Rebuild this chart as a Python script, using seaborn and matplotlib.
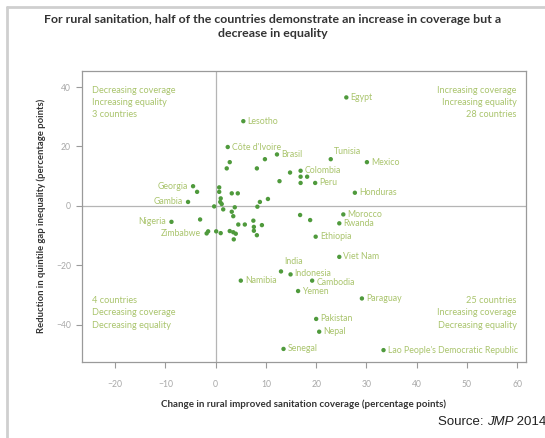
import matplotlib
matplotlib.use("Agg")
import matplotlib.pyplot as plt
import seaborn as sns
import pandas as pd
from matplotlib.lines import Line2D

# ---------------- data ----------------
labeled_countries = [
    "Egypt", "Lesotho", "Côte d'Ivoire", "Brasil", "Tunisia", "Mexico", "Colombia",
    "Peru", "Honduras", "Morocco", "Rwanda", "Ethiopia", "Viet Nam", "India",
    "Indonesia", "Cambodia", "Yemen", "Namibia", "Paraguay", "Pakistan", "Nepal",
    "Senegal", "Lao People's Democratic Republic", "Georgia", "Gambia", "Nigeria",
    "Zimbabwe",
]
labeled_x = [
    26.0, 5.5, 2.4, 12.2, 22.9, 30.1, 16.9,
    19.8, 27.7, 25.4, 24.6, 19.9, 24.6, 13.0,
    14.9, 19.2, 16.4, 5.0, 29.1, 20.0, 20.6,
    13.5, 33.4, -4.5, -5.5, -8.8,
    -1.8,
]
labeled_y = [
    36.5, 28.5, 19.8, 17.3, 15.7, 14.7, 11.8,
    7.7, 4.4, -2.9, -5.9, -10.4, -17.2, -22.1,
    -23.1, -25.2, -28.7, -25.2, -31.2, -38.1, -42.4,
    -48.2, -48.6, 6.6, 1.3, -5.4,
    -9.3,
]
unlabeled_x = [
    2.8, 2.2, 8.2, 9.8, 12.7, 14.8, 16.9, 18.2, 16.9, 0.7, 0.7, 3.2, 4.4, 1.0, 0.9,
    1.2, 8.8, 10.4, -3.7, -3.1, -1.5, 16.8, 18.8, 1.5, 3.8, 3.2, 3.5, 8.3, 4.5, 5.8,
    7.5, 7.6, 9.2, 7.6, 8.2, 0.1, 1.0, 2.8, 3.5, 4.0, 3.6, -0.3,
]
unlabeled_y = [
    14.7, 12.6, 12.6, 15.7, 8.3, 11.2, 9.8, 9.8, 7.7, 6.2, 4.7, 4.2, 4.2, 2.5, 1.3,
    0.6, 1.3, 2.3, 4.7, -4.6, -8.6, -3.1, -4.8, -1.2, -0.5, -2.0, -3.5, -0.3, -6.3, -6.3,
    -5.0, -7.1, -6.5, -8.4, -9.9, -8.6, -9.2, -8.5, -8.9, -9.4, -11.3, -0.2,
]
x_ticks = [-20, -10, 0, 10, 20, 30, 40, 50, 60]
y_ticks = [-40, -20, 0, 20, 40]
quadrant_notes = {
    "tl": "Decreasing coverage\nIncreasing equality\n3 countries",
    "tr": "Increasing coverage\nIncreasing equality\n28 countries",
    "bl": "4 countries\nDecreasing coverage\nDecreasing equality",
    "br": "25 countries\nIncreasing coverage\nDecreasing equality",
}
title = ("For rural sanitation, half of the countries demonstrate an increase in coverage but a\n"
         "decrease in equality")
x_label = "Change in rural improved sanitation coverage (percentage points)"
y_label = "Reduction in quintile gap inequality (percentage points)"
left_labels = {"Georgia", "Gambia", "Nigeria", "Zimbabwe"}
raised_labels = {"India": 4.2, "Tunisia": 2}
label_nudge = {"Indonesia": 1.0, "Cambodia": -1.5}

df = pd.DataFrame({
    "country": labeled_countries + [""] * len(unlabeled_x),
    "x": labeled_x + unlabeled_x,
    "y": labeled_y + unlabeled_y,
})

# ---------------- style ----------------
sns.set_theme(style="white")
plt.rcParams["font.family"] = ["Lato", "DejaVu Sans"]

DOT = "#4f9a3c"
LAB = "#a9c46c"
GRID = "#9a9a9a"
LFS = 6.3

fig = plt.figure(figsize=(5.45, 4.38), dpi=100)
ax = fig.add_axes([0.1505, 0.1742, 0.8141, 0.6637])

ax.axvline(0, color="#b5b5b5", lw=0.9, zorder=1)
ax.axhline(0, color="#b5b5b5", lw=0.9, zorder=1)

sns.scatterplot(data=df, x="x", y="y", ax=ax, color=DOT, s=10, edgecolor="none",
                zorder=3, legend=False)

for _, r in df.iterrows():
    name = r["country"]
    if not name:
        continue
    if name in left_labels:
        ax.annotate(name, (r["x"], r["y"]), xytext=(-4, 0), textcoords="offset points",
                    ha="right", va="center", fontsize=LFS, color=LAB)
    elif name in raised_labels:
        ax.annotate(name, (r["x"], r["y"]), xytext=(2, raised_labels[name]),
                    textcoords="offset points", ha="left", va="bottom",
                    fontsize=LFS, color=LAB)
    else:
        ax.annotate(name, (r["x"], r["y"]), xytext=(3, label_nudge.get(name, 0)),
                    textcoords="offset points", ha="left", va="center",
                    fontsize=LFS, color=LAB)

ax.set_xlim(-26.6, 61.7)
ax.set_ylim(-52.5, 45.4)
ax.set_xticks(x_ticks)
ax.set_yticks(y_ticks)
ax.tick_params(axis="both", which="both", length=4, width=0.8, color=GRID,
               labelsize=6.2, labelcolor="#a8a8a8", direction="out")
ax.tick_params(axis="x", pad=9)
ax.tick_params(axis="y", pad=4)
ax.xaxis.set_ticks_position("bottom")
ax.yaxis.set_ticks_position("left")
for s in ax.spines.values():
    s.set_color(GRID)
    s.set_linewidth(0.9)
    s.set_visible(True)

ax.set_xlabel(x_label, fontsize=7, fontweight="bold", color="#333333", labelpad=8)
ax.set_ylabel(y_label, fontsize=6.8, fontweight="bold", color="#333333", labelpad=7)

kw = dict(fontsize=6.6, color=LAB, linespacing=1.45, transform=ax.transAxes)
ax.text(0.023, 0.95, quadrant_notes["tl"], ha="left", va="top", **kw)
ax.text(0.98, 0.95, quadrant_notes["tr"], ha="right", va="top", **kw)
ax.text(0.023, 0.225, quadrant_notes["bl"], ha="left", va="top", **kw)
ax.text(0.98, 0.225, quadrant_notes["br"], ha="right", va="top", **kw)

fig.text(0.5, 0.968, title, ha="center", va="top", fontsize=8.9, fontweight="bold",
         color="#333333", linespacing=1.35)

src_x = 0.803
t1 = fig.text(src_x, 0.022, "Source: ", ha="left", va="bottom", fontsize=9.5,
              family="Liberation Sans", color="#222222")
fig.canvas.draw()
bb = t1.get_window_extent().transformed(fig.transFigure.inverted())
t2 = fig.text(bb.x1, 0.022, "JMP", ha="left", va="bottom", fontsize=9.5,
              family="Liberation Sans", style="italic", color="#222222")
fig.canvas.draw()
bb2 = t2.get_window_extent().transformed(fig.transFigure.inverted())
fig.text(bb2.x1, 0.022, " 2014", ha="left", va="bottom", fontsize=9.5,
         family="Liberation Sans", color="#222222")

# frame lines of the surrounding panel
fig.add_artist(Line2D([7 / 545, 7 / 545], [0, 1 - 7 / 438], transform=fig.transFigure,
                      color="#cfcfcf", lw=2))
fig.add_artist(Line2D([7 / 545, 1], [1 - 7 / 438, 1 - 7 / 438], transform=fig.transFigure,
                      color="#cfcfcf", lw=2))

fig.savefig("out.png", dpi=100)
